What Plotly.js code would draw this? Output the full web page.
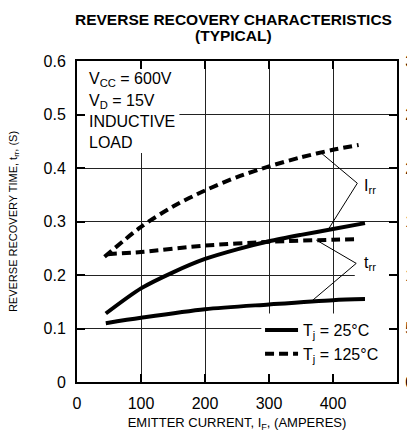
<!DOCTYPE html>
<html>
<head>
<meta charset="utf-8">
<script src="https://cdn.plot.ly/plotly-3.0.1.min.js"></script>
<style>html,body{margin:0;padding:0;background:#fff;}#chart{width:407px;height:432px;}</style>
</head>
<body>
<div id="chart"></div>
<script>
// Emitter current (A) and reverse recovery values
const xIrr25 = [45, 100, 150, 200, 250, 300, 350, 400, 450];
const yIrr25 = [0.128, 0.175, 0.205, 0.230, 0.248, 0.263, 0.275, 0.286, 0.297];

const xTrr25 = [45, 100, 200, 300, 400, 450];
const yTrr25 = [0.110, 0.120, 0.136, 0.145, 0.153, 0.155];

const xIrr125 = [43, 100, 150, 200, 250, 300, 350, 400, 440];
const yIrr125 = [0.234, 0.290, 0.328, 0.358, 0.383, 0.403, 0.420, 0.434, 0.443];

const xTrr125 = [48, 100, 200, 300, 400, 440];
const yTrr125 = [0.239, 0.243, 0.255, 0.262, 0.266, 0.267];

const legend25 = "T<sub>j</sub> = 25°C";
const legend125 = "T<sub>j</sub> = 125°C";
const conditions = ["V<sub>CC</sub> = 600V", "V<sub>D</sub> = 15V", "INDUCTIVE", "LOAD"];
const titleLines = ["REVERSE RECOVERY CHARACTERISTICS", "(TYPICAL)"];

const FONT = "Liberation Sans, Arial, Helvetica, sans-serif";
const solid = {color: "#000", width: 4, shape: "spline", smoothing: 0.8};
const dashed = {color: "#000", width: 4, dash: "9px,5px", shape: "spline", smoothing: 0.8};

const traces = [
  {x: xIrr25, y: yIrr25, mode: "lines", line: solid, name: legend25, legendgroup: "a", showlegend: true},
  {x: xTrr25, y: yTrr25, mode: "lines", line: solid, name: legend25, legendgroup: "a", showlegend: false},
  {x: xIrr125, y: yIrr125, mode: "lines", line: dashed, name: legend125, legendgroup: "b", showlegend: true},
  {x: xTrr125, y: yTrr125, mode: "lines", line: dashed, name: legend125, legendgroup: "b", showlegend: false},
  {x: [], y: [], yaxis: "y2", mode: "lines", showlegend: false, hoverinfo: "skip"}
];

const condY = [0.566, 0.524, 0.487, 0.447];
const annotations = conditions.map((t, i) => ({
  text: t, x: 16, y: condY[i], xref: "x", yref: "y", xanchor: "left", yanchor: "middle",
  showarrow: false, font: {family: FONT, size: 16, color: "#000"}
}));
annotations.push({text: "I<sub>rr</sub>", x: 446, y: 0.366, xref: "x", yref: "y", xanchor: "left", yanchor: "middle",
  showarrow: false, font: {family: FONT, size: 16, color: "#000"}});
annotations.push({text: "t<sub>rr</sub>", x: 446, y: 0.222, xref: "x", yref: "y", xanchor: "left", yanchor: "middle",
  showarrow: false, font: {family: FONT, size: 16, color: "#000"}});
const titleY = [1.129, 1.079];
titleLines.forEach((t, i) => annotations.push({
  text: "<b>" + t + "</b>", x: 0.49, y: titleY[i], xref: "paper", yref: "paper", xanchor: "center", yanchor: "middle",
  showarrow: false, font: {family: FONT, size: 15.5, color: "#000"}
}));

const leader = {type: "line", xref: "x", yref: "y", line: {color: "#000", width: 1}, layer: "above"};
const cover = {type: "rect", xref: "x", yref: "y", fillcolor: "#fff", line: {width: 0}, layer: "between"};
const shapes = [
  Object.assign({}, cover, {x0: 0, x1: 160, y0: 0.428, y1: 0.6}),
  Object.assign({}, cover, {x0: 288, x1: 500, y0: 0, y1: 0.128}),
  Object.assign({}, cover, {x0: 434, x1: 500, y0: 0.19, y1: 0.21}),
  Object.assign({}, leader, {x0: 438, y0: 0.3715, x1: 381.6, y1: 0.428}),
  Object.assign({}, leader, {x0: 438, y0: 0.3715, x1: 392, y1: 0.284}),
  Object.assign({}, leader, {x0: 436.3, y0: 0.2217, x1: 373.8, y1: 0.2654}),
  Object.assign({}, leader, {x0: 436.3, y0: 0.2217, x1: 368.4, y1: 0.153})
];

const axisCommon = {
  ticks: "inside", ticklen: 8, tickwidth: 2, tickcolor: "#000",
  showline: true, linewidth: 2, linecolor: "#000",
  showgrid: true, gridcolor: "#222", gridwidth: 1, zeroline: false,
  tickfont: {family: FONT, size: 16, color: "#000"}
};

const layout = {
  width: 407, height: 432,
  margin: {l: 77, r: 10, t: 61, b: 50},
  paper_bgcolor: "#fff", plot_bgcolor: "#fff",
  font: {family: FONT, color: "#000"},
  xaxis: Object.assign({}, axisCommon, {range: [0, 500], dtick: 100, tick0: 0, mirror: "ticks",
    ticklabelstandoff: 6,
    title: {text: "EMITTER CURRENT, I<sub>F</sub>, (AMPERES)", font: {family: FONT, size: 13, color: "#000"}, standoff: 8}}),
  yaxis: Object.assign({}, axisCommon, {range: [0, 0.6], dtick: 0.1, tick0: 0, mirror: true,
    ticklabelstandoff: 6,
    title: {text: "REVERSE RECOVERY TIME, t<sub>rr</sub>, (S)", font: {family: FONT, size: 11, color: "#000"}, standoff: 24}}),
  yaxis2: Object.assign({}, axisCommon, {overlaying: "y", side: "right", range: [0, 30], dtick: 5, tick0: 0,
    showgrid: false, ticklabelstandoff: 3}),
  legend: {x: 0.572, y: 0.215, xanchor: "left", yanchor: "top", bgcolor: "rgba(0,0,0,0)", itemwidth: 33,
    font: {family: FONT, size: 16, color: "#000"}, tracegroupgap: 0, traceorder: "normal"},
  showlegend: true,
  annotations: annotations,
  shapes: shapes
};

Plotly.newPlot("chart", traces, layout, {staticPlot: true, displayModeBar: false});
</script>
</body>
</html>
